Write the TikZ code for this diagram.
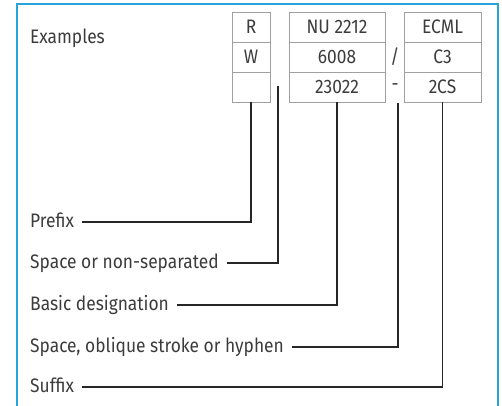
\documentclass[tikz,border=0pt]{standalone}
\usepackage{fontspec}
\setmainfont{Fira Sans}[FakeStretch=0.89]
\definecolor{frameblue}{RGB}{41,163,222}
\definecolor{cellgrey}{RGB}{160,160,160}
\definecolor{textgrey}{RGB}{60,60,60}
\tikzset{cell/.style={draw=cellgrey, line width=0.7pt, minimum height=30pt, inner sep=0pt,
		text=textgrey, font=\fontsize{19.5}{19.5}\selectfont},
	sep/.style={inner sep=0pt, text=textgrey, font=\fontsize{19.5}{19.5}\selectfont},
	lbl/.style={anchor=base west, inner sep=0pt, text=textgrey, font=\fontsize{19.5}{19.5}\selectfont},
	lead/.style={draw=black!85, line width=1.1pt}}

\begin{document}
\begin{tikzpicture}[x=1pt,y=-1pt]
		\useasboundingbox (0,0) rectangle (502,405);
		\draw[frameblue, line width=1.5pt] (17,420) -- (17,4) -- (498,4) -- (498,420);
		\node[lbl] (ex) at (30,43){Examples};
		% designation table
		\node[cell, minimum width=38pt] (r1) at (251,27){R};
		\node[cell, minimum width=38pt] (r2) at (251,57){W};
		\node[cell, minimum width=38pt] (r3) at (251,87){};
		\node[cell, minimum width=96pt] (n1) at (337,27){NU 2212};
		\node[cell, minimum width=96pt] (n2) at (337,57){6008};
		\node[cell, minimum width=96pt] (n3) at (337,87){23022};
		\node[cell, minimum width=77pt] (e1) at (442.5,27){ECML};
		\node[cell, minimum width=77pt] (e2) at (442.5,57){C3};
		\node[cell, minimum width=77pt] (e3) at (442.5,87){2CS};
		\node[sep] (sl) at (395,57){/};
		\node[sep] (hy) at (395,87){-};
		\coordinate (gap) at (278,86);
		\coordinate (mark) at (398,103);
		% labels
		\node[lbl] (prefix) at (30,227){Prefix};
		\node[lbl] (space) at (30,268){Space or non-separated};
		\node[lbl] (basic) at (30,310){Basic designation};
		\node[lbl] (stroke) at (30,352){Space, oblique stroke or hyphen};
		\node[lbl] (suffix) at (30,392){Suffix};
		\draw[lead] (r3.south) |- ([xshift=8pt,yshift=5pt]prefix.base east);
		\draw[lead] (gap) |- ([xshift=8pt,yshift=5pt]space.base east);
		\draw[lead] (n3.south) |- ([xshift=8pt,yshift=5pt]basic.base east);
		\draw[lead] (mark) |- ([xshift=8pt,yshift=5pt]stroke.base east);
		\draw[lead] (e3.south) |- ([xshift=8pt,yshift=5pt]suffix.base east);
\end{tikzpicture}
\end{document}
